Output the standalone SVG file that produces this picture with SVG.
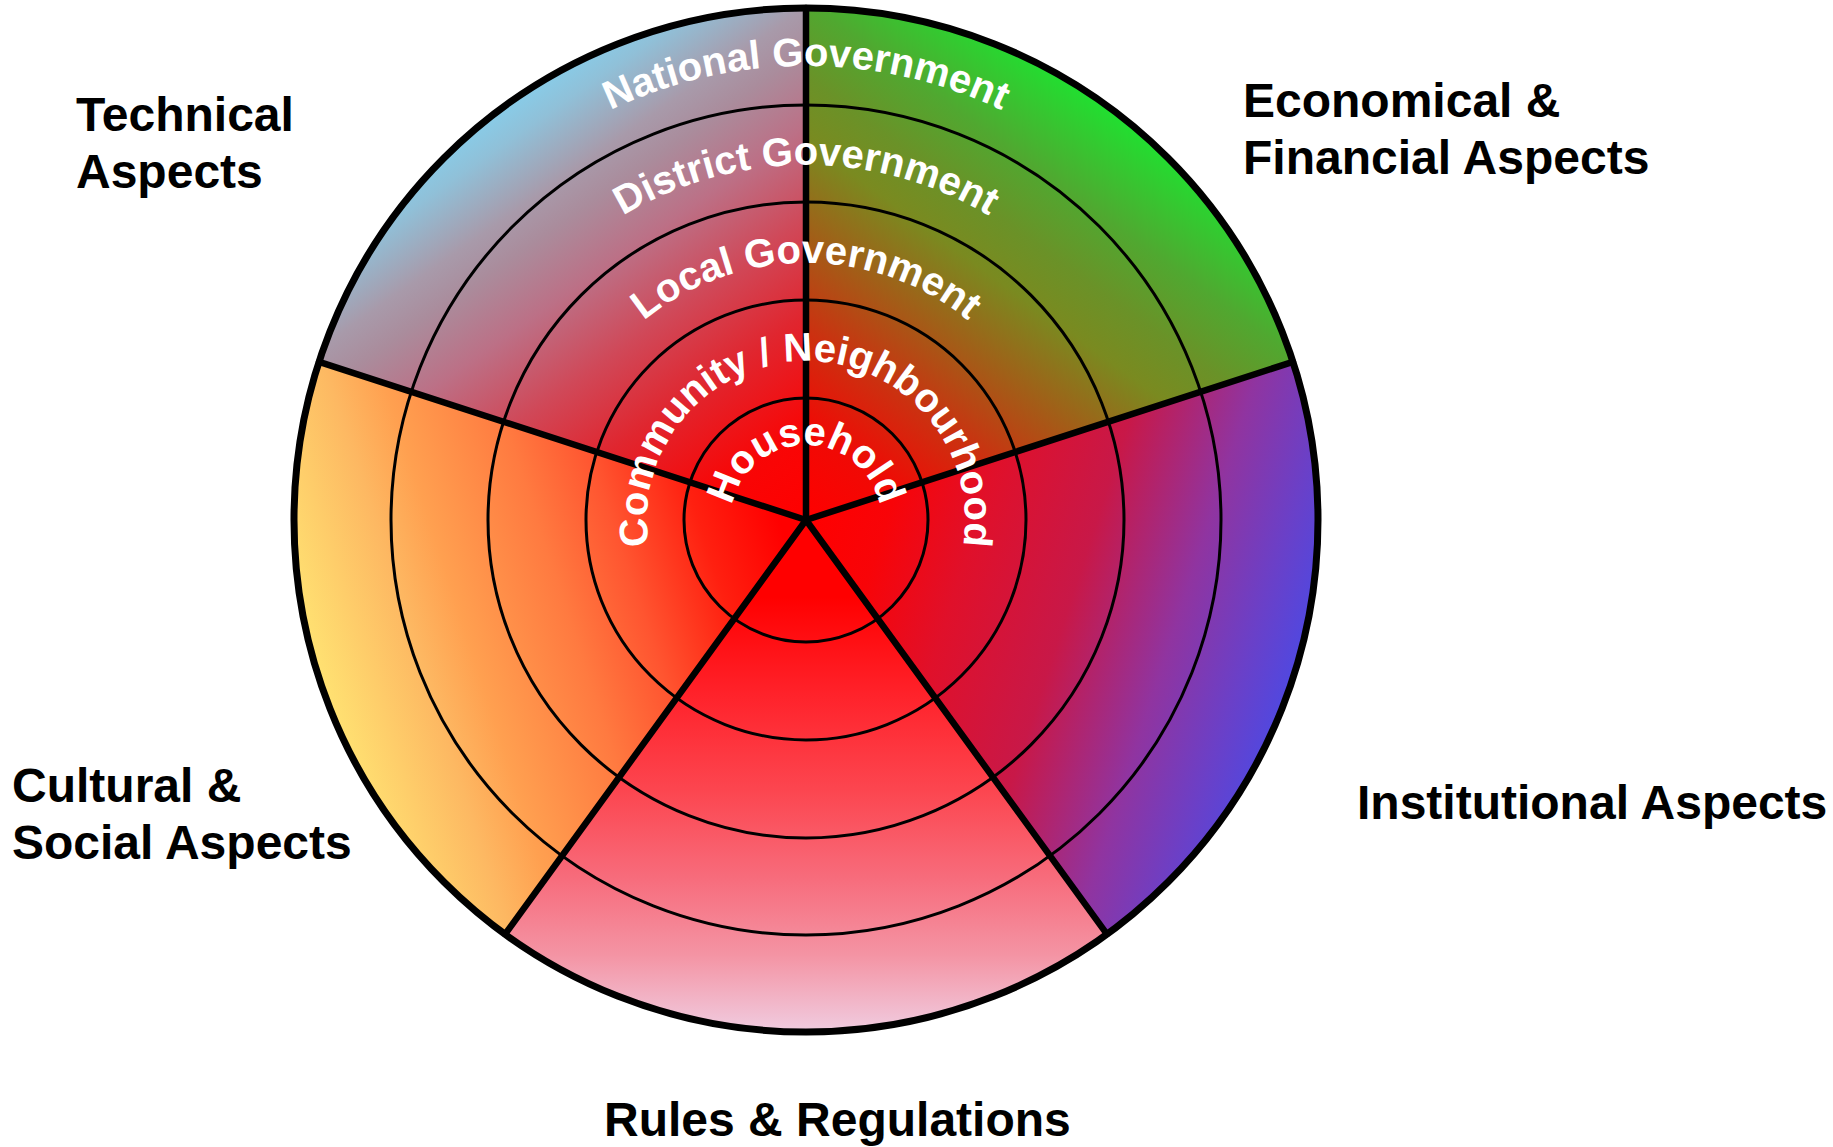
<svg xmlns="http://www.w3.org/2000/svg" xmlns:xlink="http://www.w3.org/1999/xlink" width="1833" height="1147" viewBox="0 0 1833 1147">
<style>
.sector{stroke:none}
.ring{fill:none;stroke:#000;stroke-width:3}
.spoke{stroke:#000;stroke-width:6.5;stroke-linecap:round}
.rim{fill:none;stroke:#000;stroke-width:7}
.lvl{font-family:"Liberation Sans",Arial,sans-serif;font-weight:bold;font-size:40px;fill:#fff}
.lab{font-family:"Liberation Sans",Arial,sans-serif;font-weight:bold;font-size:48px;fill:#000}
</style>
<defs>
<linearGradient id="gTech" gradientUnits="userSpaceOnUse" x1="512" y1="101" x2="806" y2="520">
<stop offset="0" stop-color="#88cce8"/>
<stop offset="0.06" stop-color="#90c0d8"/>
<stop offset="0.18" stop-color="#a89aaa"/>
<stop offset="0.25" stop-color="#aa8c9c"/>
<stop offset="0.37" stop-color="#bc7086"/>
<stop offset="0.52" stop-color="#d04858"/>
<stop offset="0.67" stop-color="#e0262f"/>
<stop offset="0.85" stop-color="#f80606"/>
<stop offset="1" stop-color="#ff0000"/>
</linearGradient>
<linearGradient id="gEcon" gradientUnits="userSpaceOnUse" x1="1107" y1="106" x2="806" y2="520">
<stop offset="0" stop-color="#20e030"/>
<stop offset="0.18" stop-color="#50a830"/>
<stop offset="0.3" stop-color="#6a9228"/>
<stop offset="0.4" stop-color="#7a8a20"/>
<stop offset="0.54" stop-color="#a06018"/>
<stop offset="0.7" stop-color="#cc3010"/>
<stop offset="0.85" stop-color="#f00a05"/>
<stop offset="1" stop-color="#ff0000"/>
</linearGradient>
<linearGradient id="gInst" gradientUnits="userSpaceOnUse" x1="1293" y1="678" x2="806" y2="520">
<stop offset="0" stop-color="#5048e0"/>
<stop offset="0.1" stop-color="#6a40c8"/>
<stop offset="0.25" stop-color="#9034a0"/>
<stop offset="0.46" stop-color="#c81848"/>
<stop offset="0.68" stop-color="#e0102a"/>
<stop offset="0.85" stop-color="#f80408"/>
<stop offset="1" stop-color="#ff0000"/>
</linearGradient>
<linearGradient id="gRules" gradientUnits="userSpaceOnUse" x1="806" y1="1032" x2="806" y2="520">
<stop offset="0" stop-color="#f0cce0"/>
<stop offset="0.15" stop-color="#f494a4"/>
<stop offset="0.3" stop-color="#f76c7c"/>
<stop offset="0.47" stop-color="#fc4650"/>
<stop offset="0.67" stop-color="#ff2028"/>
<stop offset="0.85" stop-color="#ff0000"/>
</linearGradient>
<linearGradient id="gCult" gradientUnits="userSpaceOnUse" x1="319" y1="678" x2="806" y2="520">
<stop offset="0" stop-color="#ffe272"/>
<stop offset="0.2" stop-color="#fdb862"/>
<stop offset="0.3" stop-color="#ffa050"/>
<stop offset="0.5" stop-color="#ff7a40"/>
<stop offset="0.64" stop-color="#ff5530"/>
<stop offset="0.8" stop-color="#ff2010"/>
<stop offset="0.95" stop-color="#ff0000"/>
</linearGradient>
<path id="p1" d="M806,595 A75,75 0 1 1 806,445 A75,75 0 1 1 806,595"/>
<path id="p2" d="M806,679 A159,159 0 1 1 806,361 A159,159 0 1 1 806,679"/>
<path id="p3" d="M806,777 A257,257 0 1 1 806,263 A257,257 0 1 1 806,777"/>
<path id="p4" d="M806,875 A355,355 0 1 1 806,165 A355,355 0 1 1 806,875"/>
<path id="p5" d="M806,974 A454,454 0 1 1 806,66 A454,454 0 1 1 806,974"/>
</defs>

<g id="sectors">
<path id="sector-technical" class="sector" fill="url(#gTech)" d="M806,520 L806,8 A512,512 0 0 0 319.1,361.8 Z"/>
<path id="sector-economical" class="sector" fill="url(#gEcon)" d="M806,520 L1292.9,361.8 A512,512 0 0 0 806,8 Z"/>
<path id="sector-institutional" class="sector" fill="url(#gInst)" d="M806,520 L1106.9,934.2 A512,512 0 0 0 1292.9,361.8 Z"/>
<path id="sector-rules" class="sector" fill="url(#gRules)" d="M806,520 L505.1,934.2 A512,512 0 0 0 1106.9,934.2 Z"/>
<path id="sector-cultural" class="sector" fill="url(#gCult)" d="M806,520 L319.1,361.8 A512,512 0 0 0 505.1,934.2 Z"/>
</g>

<g id="rings">
<circle id="ring-household" class="ring" cx="806" cy="520" r="122"/>
<circle id="ring-community" class="ring" cx="806" cy="520" r="220"/>
<circle id="ring-local" class="ring" cx="806" cy="520" r="318"/>
<circle id="ring-district" class="ring" cx="806" cy="520" r="415"/>
</g>

<g id="connectors">
<line class="spoke" x1="806" y1="520" x2="806" y2="8"/>
<line class="spoke" x1="806" y1="520" x2="1292.9" y2="361.8"/>
<line class="spoke" x1="806" y1="520" x2="1106.9" y2="934.2"/>
<line class="spoke" x1="806" y1="520" x2="505.1" y2="934.2"/>
<line class="spoke" x1="806" y1="520" x2="319.1" y2="361.8"/>
</g>

<circle id="rim" class="rim" cx="806" cy="520" r="512"/>

<g id="levels">
<g id="level-household"><text class="lvl"><textPath xlink:href="#p1" href="#p1" startOffset="50%" text-anchor="middle">Household</textPath></text></g>
<g id="level-community"><text class="lvl"><textPath xlink:href="#p2" href="#p2" startOffset="50%" text-anchor="middle">Community / Neighbourhood</textPath></text></g>
<g id="level-local"><text class="lvl"><textPath xlink:href="#p3" href="#p3" startOffset="50%" text-anchor="middle">Local Government</textPath></text></g>
<g id="level-district"><text class="lvl"><textPath xlink:href="#p4" href="#p4" startOffset="50%" text-anchor="middle">District Government</textPath></text></g>
<g id="level-national"><text class="lvl"><textPath xlink:href="#p5" href="#p5" startOffset="50%" text-anchor="middle">National Government</textPath></text></g>
</g>

<g id="aspects">
<g id="label-technical"><text class="lab" x="76" y="131">Technical</text><text class="lab" x="76" y="188">Aspects</text></g>
<g id="label-economical"><text class="lab" x="1243" y="117">Economical &amp;</text><text class="lab" x="1243" y="174">Financial Aspects</text></g>
<g id="label-institutional"><text class="lab" x="1357" y="819">Institutional Aspects</text></g>
<g id="label-cultural"><text class="lab" x="12" y="802">Cultural &amp;</text><text class="lab" x="12" y="859">Social Aspects</text></g>
<g id="label-rules"><text class="lab" x="604" y="1136">Rules &amp; Regulations</text></g>
</g>
</svg>
